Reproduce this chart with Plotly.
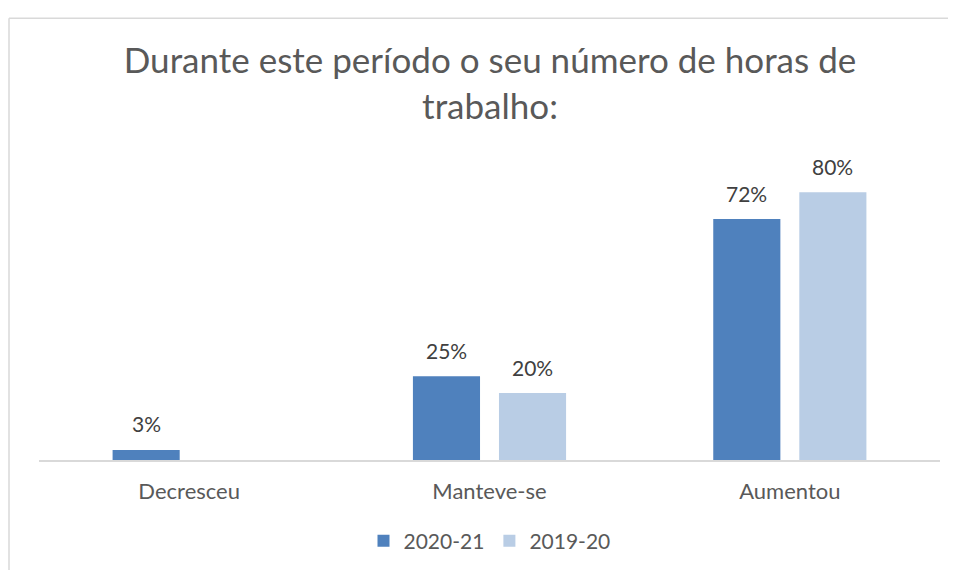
import plotly.graph_objects as go

categories = ["Decresceu", "Manteve-se", "Aumentou"]
s2021 = [3, 25, 72]
s1920 = [None, 20, 80]
series_names = ["2020-21", "2019-20"]
colors = ["#4f81bd", "#b9cde5"]
title = "Durante este período o seu número de horas de<br>trabalho:"

OFF = 8  # page body margin
W, H = 940, 562
AXIS_Y = 467   # target page y of the category axis
TOP_Y = 159    # target page y of plot-area top
L, T = 39 - OFF, TOP_Y - OFF
R = W - (940 - OFF)
B = H - (AXIS_Y - OFF)
pw = W - L - R
ph = H - T - B
YMAX = 80 * ph / (AXIS_Y - 193)

fig = go.Figure()
for name, vals, col in zip(series_names, [s2021, s1920], colors):
    fig.add_trace(go.Bar(x=categories, y=vals, name=name, marker_color=col,
                         marker_line_width=0))

font = "Lato, 'Open Sans', sans-serif"
ann = []
for vals, shift in zip([s2021, s1920], [-43, 43]):
    for c, v in zip(categories, vals):
        if v is None:
            continue
        ann.append(dict(x=c, y=v, xref="x", yref="y", text=f"{v}%", showarrow=False,
                        xshift=shift, yshift=26, yanchor="middle",
                        font=dict(family=font, size=21, color="#404040")))

# border of chart area (top and left edges visible)
bx0 = (9 - OFF - L) / pw
by1 = (H - B - (15 - OFF)) / ph
border = dict(color="#d9d9d9", width=1.5)
shapes = [
    dict(type="line", xref="paper", yref="paper", x0=bx0, x1=1.5, y0=by1, y1=by1, line=border),
    dict(type="line", xref="paper", yref="paper", x0=bx0, x1=bx0, y0=by1, y1=-1, line=border),
]

fig.update_layout(
    width=W, height=H,
    margin=dict(l=L, r=R, t=T, b=B),
    paper_bgcolor="white", plot_bgcolor="white",
    barmode="group", bargap=0.427, bargroupgap=0.22,
    title=dict(text=title, x=(490 - OFF) / W, xanchor="center", y=1 - (73 - OFF) / H,
               yanchor="middle", font=dict(family=font, size=35, color="#595959")),
    xaxis=dict(showline=True, linecolor="#d9d9d9", linewidth=1.5, ticks="",
               tickfont=dict(family=font, size=22, color="#595959"), showgrid=False,
               ticklabelstandoff=11, fixedrange=True),
    yaxis=dict(range=[0, YMAX], visible=False, showgrid=False, fixedrange=True),
    legend=dict(orientation="h", x=0.5, xanchor="center", y=(H - B - (550 - OFF)) / ph,
                yanchor="middle", font=dict(family=font, size=21, color="#595959"),
                itemwidth=30, traceorder="normal"),
    annotations=ann,
    shapes=shapes,
    showlegend=True,
)

fig.write_html("out.html")
